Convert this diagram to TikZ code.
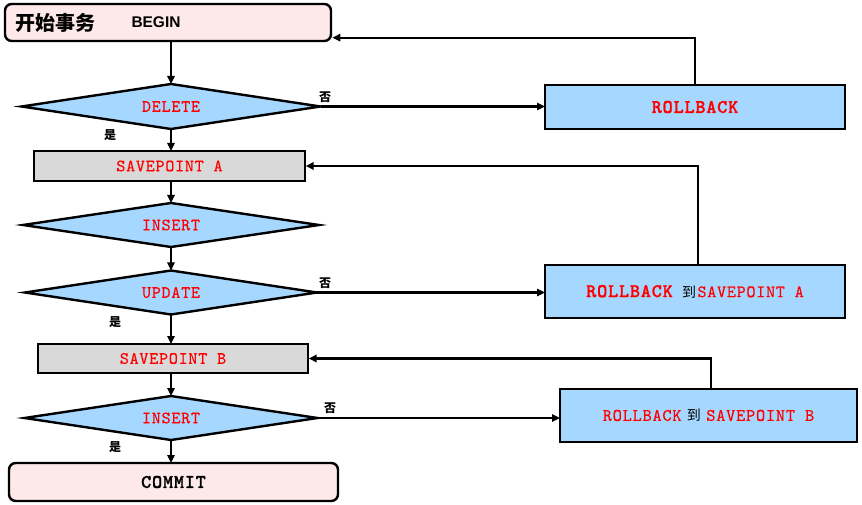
\documentclass[tikz,border=0pt]{standalone}
\usepackage{fontspec}
\setmainfont{Liberation Sans}
\newfontfamily\cjk{Noto Sans CJK SC}
\newfontfamily\cour{lmmono10-regular.otf}[LetterSpace=4,FakeBold=0.35]
\newfontfamily\courb{lmmonolt10-bold.otf}[LetterSpace=4,FakeBold=1]
\usetikzlibrary{shapes.geometric,arrows.meta}
\definecolor{bluefill}{RGB}{166,216,255}
\definecolor{grayfill}{RGB}{217,217,217}
\definecolor{pinkfill}{RGB}{253,233,233}
\definecolor{redtxt}{RGB}{255,0,0}
\tikzset{
  every node/.style={inner sep=0pt,outer sep=0pt},
  base/.style={draw=black,line width=1.8pt},
  termbox/.style={base,rounded corners=5pt,fill=pinkfill},
  spbox/.style={base,fill=grayfill,text=redtxt,font=\fontsize{13pt}{15pt}\selectfont\cour},
  rbbox/.style={base,fill=bluefill},
  dec/.style={base,diamond,fill=bluefill,aspect=6,text=redtxt,font=\fontsize{13pt}{15pt}\selectfont\cour},
  arr/.style={line width=1.7pt,-{Triangle[length=6pt,width=5.5pt]}},
  yn/.style={font=\cjk\bfseries\fontsize{9pt}{10pt}\selectfont},
}
\begin{document}
\begin{tikzpicture}[x=0.75pt,y=-0.75pt]
\useasboundingbox (0,0) rectangle (862,505);
% left column
\node[termbox,minimum width=244.5pt,minimum height=27.75pt] (begin) at (168,22.5) {};
\node[anchor=west,font=\cjk\bfseries\fontsize{15pt}{17pt}\selectfont] (beginzh) at (15,22.5) {开始事务};
\node[font=\bfseries\fontsize{11.6pt}{13pt}\selectfont] (begintxt) at (156,22.5) {BEGIN};
\node[dec,minimum width=224.25pt,minimum height=33.75pt] (del) at (171,106.5) {DELETE};
\node[spbox,minimum width=203.25pt,minimum height=22.5pt] (spa) at (169.5,166) {SAVEPOINT A};
\node[dec,minimum width=222pt,minimum height=33pt] (ins) at (171,225) {INSERT};
\node[dec,minimum width=219pt,minimum height=33pt] (upd) at (171,292.5) {UPDATE};
\node[spbox,minimum width=202.5pt,minimum height=21.75pt] (spb) at (173,358.5) {SAVEPOINT B};
\node[dec,minimum width=219.75pt,minimum height=33pt] (ins2) at (171,418) {INSERT};
\node[termbox,minimum width=246.75pt,minimum height=28.5pt,font=\fontsize{14.5pt}{16pt}\selectfont\courb] (commit) at (173.5,482) {COMMIT};
% right column
\node[rbbox,minimum width=225pt,minimum height=33pt,text=redtxt,font=\fontsize{14.5pt}{16pt}\selectfont\courb] (rb1) at (695,107) {ROLLBACK};
\node[rbbox,minimum width=225pt,minimum height=39.75pt] (rba) at (695,291.5)
  {\textcolor{redtxt}{\fontsize{14.5pt}{16pt}\selectfont\courb ROLLBACK}\hspace{7pt}{\cjk\fontsize{10.5pt}{12pt}\selectfont 到}\hspace{1pt}\textcolor{redtxt}{\fontsize{13pt}{15pt}\selectfont\cour SAVEPOINT A}};
\node[rbbox,minimum width=222.75pt,minimum height=39.75pt] (rbb) at (708.5,415.5)
  {\textcolor{redtxt}{\fontsize{13.2pt}{15pt}\selectfont\cour ROLLBACK}\hspace{4pt}{\cjk\fontsize{10.5pt}{12pt}\selectfont 到}\hspace{4pt}\textcolor{redtxt}{\fontsize{13.2pt}{15pt}\selectfont\cour SAVEPOINT B}};
% vertical arrows
\draw[arr] (del.north |- begin.south) -- (del.north);
\draw[arr] (del.south) -- (del.south |- spa.north);
\draw[arr] (ins.north |- spa.south) -- (ins.north);
\draw[arr] (ins.south) -- (upd.north);
\draw[arr] (upd.south) -- (upd.south |- spb.north);
\draw[arr] (ins2.north |- spb.south) -- (ins2.north);
\draw[arr] (ins2.south) -- (ins2.south |- commit.north);
% no branches
\draw[arr] (del.east) -- (del.east -| rb1.west);
\draw[arr] (upd.east) -- (upd.east -| rba.west);
\draw[arr] (ins2.east) -- (ins2.east -| rbb.west);
% returns
\coordinate (bin) at ([yshift=2.5pt,xshift=1pt]begin.south east);
\draw[arr] (rb1.north) |- (bin);
\coordinate (spain) at ([xshift=0.5pt]spa.east);
\draw[arr] ([xshift=2pt]rba.north) |- (spain);
\coordinate (spbin) at ([xshift=0.5pt]spb.east);
\draw[arr] ([xshift=2pt]rbb.north) |- (spbin);
% labels
\node[yn] (n1) at (325,97) {否};
\node[yn] (y1) at (110,135) {是};
\node[yn] (n2) at (325,283) {否};
\node[yn] (y2) at (115,322) {是};
\node[yn] (n3) at (330,408) {否};
\node[yn] (y3) at (115,447) {是};
\end{tikzpicture}
\end{document}
